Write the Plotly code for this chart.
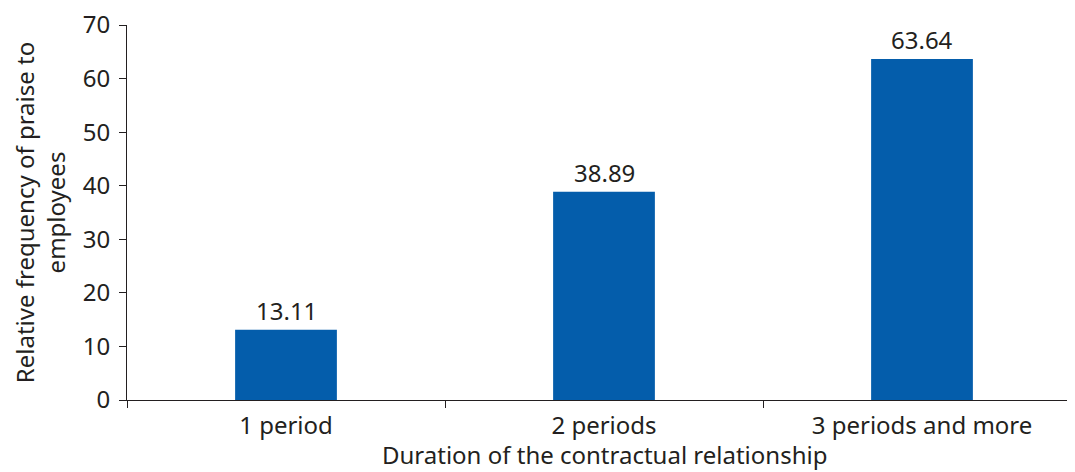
import plotly.graph_objects as go

categories = ["1 period", "2 periods", "3 periods and more"]
values = [13.11, 38.89, 63.64]
labels = ["13.11", "38.89", "63.64"]
y_ticks = [0, 10, 20, 30, 40, 50, 60, 70]
x_title = "Duration of the contractual relationship"
y_title = "Relative frequency of praise to<br>employees"

FONT = "Noto Sans, Open Sans, sans-serif"
TXT = "#231f20"
FS = 24

fig = go.Figure(go.Bar(
    x=categories, y=values,
    marker=dict(color="#045DAB", line=dict(width=0)),
    width=0.32,
))
for c, v, t in zip(categories, values, labels):
    fig.add_annotation(x=c, y=v, text=t, showarrow=False, yanchor="bottom",
                       yshift=1, font=dict(family=FONT, size=FS, color=TXT))

fig.add_annotation(x=0.5, y=0, xref="paper", yref="paper", text=x_title,
                   showarrow=False, xanchor="center", yanchor="bottom",
                   yshift=-72, borderpad=0,
                   font=dict(family=FONT, size=FS, color=TXT))

fig.update_layout(
    width=1075, height=472,
    margin=dict(l=119, r=2, t=17, b=80),
    plot_bgcolor="white", paper_bgcolor="white",
    showlegend=False,
    font=dict(family=FONT, size=FS, color=TXT),
)
fig.update_xaxes(
    range=[-0.5, 2.5], tickson="boundaries",
    showline=True, linecolor=TXT, linewidth=1,
    ticks="outside", ticklen=7, tickcolor=TXT,
    tickfont=dict(size=FS, color=TXT), ticklabelstandoff=4,
    ticklabeloverflow="allow",
    showgrid=False, zeroline=False, automargin=False,
)
fig.update_yaxes(
    range=[0, 70], tickvals=y_ticks,
    showline=True, linecolor=TXT, linewidth=1,
    ticks="outside", ticklen=7, tickcolor=TXT,
    tickfont=dict(size=FS, color=TXT), ticklabelstandoff=4,
    ticklabeloverflow="allow",
    title=dict(text=y_title, standoff=12,
               font=dict(size=FS, color=TXT)),
    showgrid=False, zeroline=False, automargin=False,
)

fig.write_html("out.html")
